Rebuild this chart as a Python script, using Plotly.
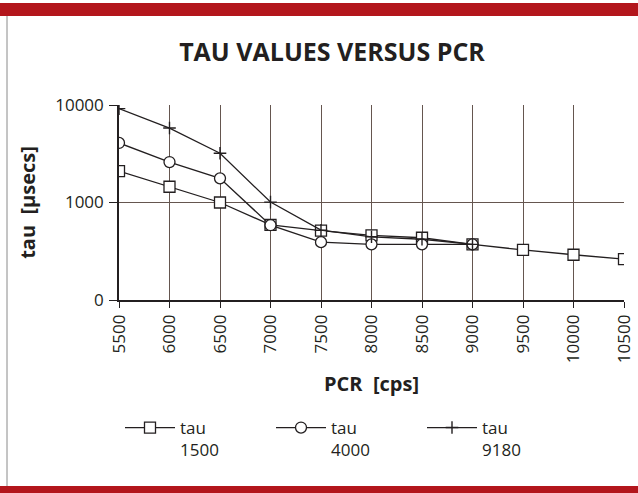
import plotly.graph_objects as go

pcr = [5500, 6000, 6500, 7000, 7500, 8000, 8500, 9000, 9500, 10000, 10500]
tau_1500 = [2100, 1450, 1000, 590, 515, 460, 435, 372, 326, 291, 263]
tau_4000 = [4080, 2600, 1770, 585, 392, 372, 372, 372]
tau_9180 = [9180, 5800, 3200, 1010, 520, 445, 420, 372]
y_tickvals = [100, 1000, 10000]
y_ticktext = ["0", "1000", "10000"]
x_tickvals = pcr
x_ticktext = [str(v) for v in pcr]
series_names = ["tau<br>1500", "tau<br>4000", "tau<br>9180"]

W, H = 638, 493
ML, MR, MT, MB = 119, 14, 105, 193
PW, PH = W - ML - MR, H - MT - MB

def px(x):
    return (x - ML) / PW

def py(y):
    return (H - MB - y) / PH

INK = "#231f20"
GRID = "#65564f"
RED = "#b3161c"
FONT = "Open Sans"

fig = go.Figure()
fig.add_trace(go.Scatter(
    x=pcr, y=tau_1500, name=series_names[0], mode="lines+markers",
    line=dict(color=INK, width=1.3),
    marker=dict(symbol="square", size=11, color="white", line=dict(color=INK, width=1.3)),
))
fig.add_trace(go.Scatter(
    x=pcr[:len(tau_4000)], y=tau_4000, name=series_names[1], mode="lines+markers",
    line=dict(color=INK, width=1.3),
    marker=dict(symbol="circle", size=11, color="white", line=dict(color=INK, width=1.3)),
))
fig.add_trace(go.Scatter(
    x=pcr[:len(tau_9180)], y=tau_9180, name=series_names[2], mode="lines+markers",
    line=dict(color=INK, width=1.3),
    marker=dict(symbol="cross-thin", size=9, color=INK, line=dict(color=INK, width=1.4)),
))

shapes = [
    dict(type="rect", xref="paper", yref="paper", x0=px(-5), x1=px(W + 5), y0=py(3), y1=py(16),
         fillcolor=RED, line=dict(width=0), layer="above"),
    dict(type="rect", xref="paper", yref="paper", x0=px(-5), x1=px(W + 5), y0=py(486), y1=py(H + 5),
         fillcolor=RED, line=dict(width=0), layer="above"),
    dict(type="line", xref="paper", yref="paper", x0=px(7), x1=px(7), y0=py(16), y1=py(486),
         line=dict(color="#8a8a8a", width=1)),
]

fig.update_layout(
    width=W, height=H,
    margin=dict(l=ML, r=MR, t=MT, b=MB, autoexpand=False),
    paper_bgcolor="white", plot_bgcolor="white",
    font=dict(family=FONT, color=INK, size=17),
    title=dict(text="<b>TAU VALUES VERSUS PCR</b>", xref="container", yref="container",
               x=332 / W, y=1 - 52 / H, xanchor="center", yanchor="middle",
               font=dict(family=FONT, size=25, color=INK)),
    xaxis=dict(
        range=[5500, 10500], tickvals=x_tickvals, ticktext=x_ticktext, tickangle=-90,
        showgrid=True, gridcolor=GRID, gridwidth=1,
        showline=True, linecolor=INK, linewidth=1.6, mirror=False,
        ticks="outside", ticklen=6, tickcolor=INK, tickwidth=1.4,
        tickfont=dict(size=17, family=FONT, color=INK),
        zeroline=False,
        title=dict(text="<b>PCR\u00a0\u00a0[cps]</b>", standoff=15, font=dict(size=20, family=FONT, color=INK)),
    ),
    yaxis=dict(
        type="log", range=[2, 4], tickvals=y_tickvals, ticktext=y_ticktext,
        showgrid=True, gridcolor=GRID, gridwidth=1,
        showline=True, linecolor=INK, linewidth=1.6,
        ticks="outside", ticklen=8, tickcolor=INK, tickwidth=1.4,
        tickfont=dict(size=17, family=FONT, color=INK),
        ticklabelstandoff=2,
        zeroline=False,
        title=dict(text="<b>tau\u00a0\u00a0[\u00b5secs]</b>", standoff=14, font=dict(size=20, family=FONT, color=INK)),
    ),
    showlegend=True,
    legend=dict(
        orientation="h", x=px(120), y=py(410), xanchor="left", yanchor="top",
        xref="paper", yref="paper", valign="top",
        entrywidth=86, entrywidthmode="pixels",
        font=dict(size=17, family=FONT, color=INK), bgcolor="rgba(0,0,0,0)",
        itemwidth=50,
    ),
    shapes=shapes,
)

fig.write_html(
    "out.html",
    config={"displayModeBar": False},
    post_script="document.body.style.margin='0';document.body.style.overflow='hidden';",
)
